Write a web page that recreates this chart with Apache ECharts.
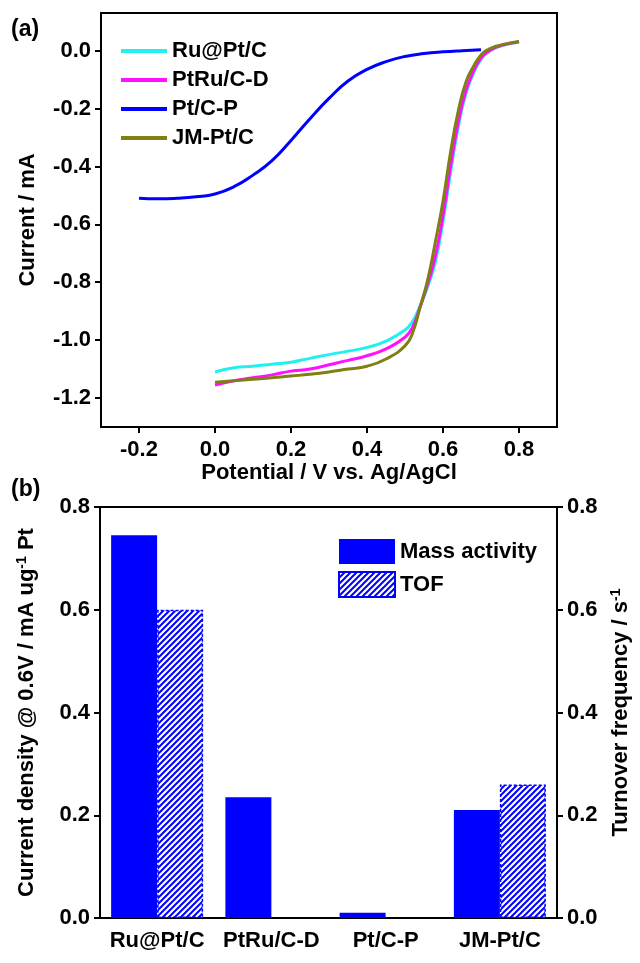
<!DOCTYPE html>
<html>
<head>
<meta charset="utf-8">
<title>ORR curves and activity</title>
<script src="https://cdn.jsdelivr.net/npm/echarts@6/dist/echarts.min.js"></script>
<style>
  html, body { margin: 0; padding: 0; background: #fff; }
  #main { width: 640px; height: 963px; }
</style>
</head>
<body>
<div id="main"></div>
<script>
// (a) polarization curves
var potential = [0, 0.05, 0.1, 0.15, 0.2, 0.25, 0.3, 0.35, 0.4, 0.45, 0.5, 0.52, 0.54, 0.56, 0.58, 0.6, 0.62, 0.64, 0.66, 0.68, 0.7, 0.72, 0.74, 0.76, 0.78, 0.8];
var ruPtC  = [-1.11, -1.095, -1.09, -1.083, -1.076, -1.063, -1.05, -1.038, -1.025, -1.003, -0.965, -0.935, -0.88, -0.815, -0.73, -0.59, -0.42, -0.265, -0.15, -0.08, -0.03, -0.004, 0.01, 0.019, 0.025, 0.03];
var ptRuCD = [-1.155, -1.14, -1.13, -1.12, -1.107, -1.1, -1.085, -1.07, -1.054, -1.03, -0.99, -0.955, -0.885, -0.805, -0.71, -0.57, -0.4, -0.25, -0.14, -0.072, -0.026, -0.002, 0.012, 0.02, 0.026, 0.031];
var jmPtC  = [-1.145, -1.14, -1.135, -1.13, -1.124, -1.118, -1.11, -1.1, -1.09, -1.065, -1.02, -0.975, -0.885, -0.79, -0.66, -0.52, -0.35, -0.21, -0.11, -0.055, -0.015, 0.005, 0.015, 0.022, 0.027, 0.032];
var potentialP = [-0.2, -0.15, -0.1, -0.05, 0, 0.05, 0.1, 0.15, 0.2, 0.25, 0.3, 0.35, 0.4, 0.45, 0.5, 0.55, 0.6, 0.65, 0.7];
var ptCP       = [-0.51, -0.512, -0.51, -0.505, -0.495, -0.47, -0.43, -0.38, -0.31, -0.235, -0.165, -0.105, -0.065, -0.038, -0.02, -0.01, -0.004, 0, 0.003];
var xTicksA = [-0.2, 0, 0.2, 0.4, 0.6, 0.8];
var yTicksA = [-1.2, -1.0, -0.8, -0.6, -0.4, -0.2, 0];

// (b) activity bars
var catalysts = ['Ru@Pt/C', 'PtRu/C-D', 'Pt/C-P', 'JM-Pt/C'];
var massActivity = [0.745, 0.235, 0.01, 0.21];
var tof = [0.6, null, null, 0.26];

var FONT = 'Liberation Sans, Arial, sans-serif';
var BLUE = '#0000ff';

function pairs(xs, ys) {
    return xs.map(function (x, i) { return [x, ys[i]]; });
}

// diagonal hatch for the TOF bars
var hatch = document.createElement('canvas');
hatch.width = 6; hatch.height = 6;
var g = hatch.getContext('2d');
g.fillStyle = '#fff';
g.fillRect(0, 0, 6, 6);
g.strokeStyle = BLUE;
g.lineWidth = 2;
g.beginPath();
g.moveTo(0, 6); g.lineTo(6, 0);
g.moveTo(-3, 3); g.lineTo(3, -3);
g.moveTo(3, 9); g.lineTo(9, 3);
g.stroke();

var tick = { color: '#000', fontSize: 22, fontWeight: 'bold', fontFamily: FONT };
var axLine = { show: true, onZero: false, lineStyle: { color: '#000', width: 2 } };
var axTick = { show: true, inside: false, length: 6, lineStyle: { color: '#000', width: 2 } };
var supStyle = { sup: { fontSize: 14, fontWeight: 'bold', fontFamily: FONT, color: '#000', padding: [0, 0, 9, 0] } };
var fmt = function (v) { return v.toFixed(1); };

var chart = echarts.init(document.getElementById('main'));
chart.setOption({
    animation: false,
    backgroundColor: '#fff',
    grid: [
        { left: 101, right: 83, top: 13, bottom: 536, show: true, borderColor: '#000', borderWidth: 2 },
        { left: 100, right: 83, top: 507, bottom: 45, show: true, borderColor: '#000', borderWidth: 2 }
    ],
    graphic: [
        { type: 'text', left: 11, top: 18, style: { text: '(a)', fontSize: 23, fontWeight: 'bold', fontFamily: FONT, fill: '#000' } },
        { type: 'text', left: 11, top: 478, style: { text: '(b)', fontSize: 23, fontWeight: 'bold', fontFamily: FONT, fill: '#000' } }
    ],
    legend: [
        {
            data: ['Ru@Pt/C', 'PtRu/C-D', 'Pt/C-P', 'JM-Pt/C'],
            orient: 'vertical', left: 116, top: 35,
            icon: 'rect', itemWidth: 46, itemHeight: 4, itemGap: 7,
            textStyle: { color: '#000', fontSize: 22, fontWeight: 'bold', fontFamily: FONT }
        },
        {
            data: ['Mass activity', 'TOF'],
            orient: 'vertical', left: 333, top: 534,
            icon: 'rect', itemWidth: 56, itemHeight: 25, itemGap: 7,
            textStyle: { color: '#000', fontSize: 22, fontWeight: 'bold', fontFamily: FONT }
        }
    ],
    xAxis: [
        {
            gridIndex: 0, type: 'value', min: -0.3, max: 0.9,
            name: 'Potential / V vs. Ag/AgCl', nameLocation: 'middle', nameGap: 28,
            nameTextStyle: tick,
            axisLine: axLine, axisTick: Object.assign({ customValues: xTicksA }, axTick),
            axisLabel: Object.assign({ customValues: xTicksA, margin: 12, formatter: fmt }, tick),
            splitLine: { show: false }
        },
        {
            gridIndex: 1, type: 'category', data: catalysts,
            axisLine: axLine, axisTick: { show: false },
            axisLabel: Object.assign({ margin: 12, interval: 0, hideOverlap: false }, tick),
            splitLine: { show: false }
        }
    ],
    yAxis: [
        {
            gridIndex: 0, type: 'value', min: -1.3, max: 0.13,
            name: 'Current / mA', nameLocation: 'middle', nameGap: 62,
            nameTextStyle: tick,
            axisLine: axLine, axisTick: Object.assign({ customValues: yTicksA }, axTick),
            axisLabel: Object.assign({ customValues: yTicksA, margin: 10, formatter: fmt }, tick),
            splitLine: { show: false }
        },
        {
            gridIndex: 1, type: 'value', min: 0, max: 0.8, interval: 0.2, position: 'left',
            name: 'Current density @ 0.6V / mA ug{sup|-1} Pt', nameLocation: 'middle', nameGap: 62,
            nameTextStyle: Object.assign({ rich: supStyle }, tick),
            axisLine: axLine, axisTick: axTick,
            axisLabel: Object.assign({ margin: 10, formatter: fmt }, tick),
            splitLine: { show: false }
        },
        {
            gridIndex: 1, type: 'value', min: 0, max: 0.8, interval: 0.2, position: 'right',
            name: 'Turnover frequency / s{sup|-1}', nameLocation: 'middle', nameGap: 52, nameRotate: 90,
            nameTextStyle: Object.assign({ rich: supStyle }, tick),
            axisLine: axLine, axisTick: axTick,
            axisLabel: Object.assign({ margin: 10, formatter: fmt }, tick),
            splitLine: { show: false }
        }
    ],
    series: [
        { name: 'Ru@Pt/C', type: 'line', xAxisIndex: 0, yAxisIndex: 0, symbol: 'none', smooth: 0.5,
          data: pairs(potential, ruPtC), lineStyle: { color: '#22f0f0', width: 3 }, itemStyle: { color: '#22f0f0' } },
        { name: 'PtRu/C-D', type: 'line', xAxisIndex: 0, yAxisIndex: 0, symbol: 'none', smooth: 0.5,
          data: pairs(potential, ptRuCD), lineStyle: { color: '#ff10ff', width: 3 }, itemStyle: { color: '#ff10ff' } },
        { name: 'Pt/C-P', type: 'line', xAxisIndex: 0, yAxisIndex: 0, symbol: 'none', smooth: 0.5,
          data: pairs(potentialP, ptCP), lineStyle: { color: BLUE, width: 3 }, itemStyle: { color: BLUE } },
        { name: 'JM-Pt/C', type: 'line', xAxisIndex: 0, yAxisIndex: 0, symbol: 'none', smooth: 0.5,
          data: pairs(potential, jmPtC), lineStyle: { color: '#7f7f12', width: 3 }, itemStyle: { color: '#7f7f12' } },
        { name: 'Mass activity', type: 'bar', xAxisIndex: 1, yAxisIndex: 1, barWidth: 46, barGap: '0%',
          data: massActivity, itemStyle: { color: BLUE } },
        { name: 'TOF', type: 'bar', xAxisIndex: 1, yAxisIndex: 2, barWidth: 46, barGap: '0%',
          data: tof, itemStyle: { color: { image: hatch, repeat: 'repeat' }, borderColor: BLUE, borderWidth: 1.5, borderType: [3, 2] } }
    ]
});
</script>
</body>
</html>
